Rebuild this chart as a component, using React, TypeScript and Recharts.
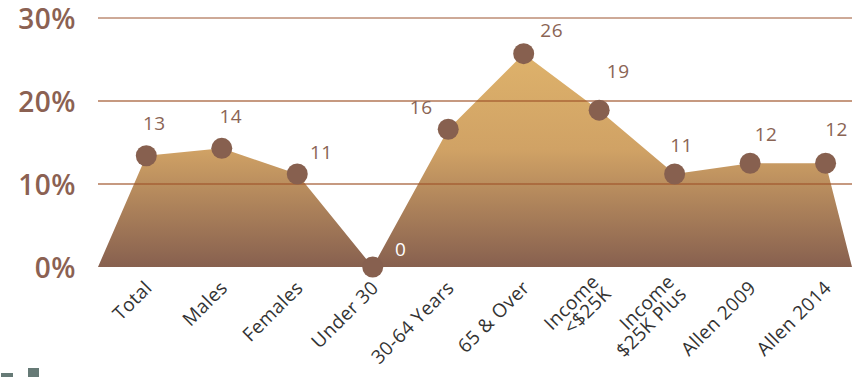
import { Area, ComposedChart, Line, ReferenceLine, XAxis, YAxis } from "recharts";

const categories = [
  "Total",
  "Males",
  "Females",
  "Under 30",
  "30-64 Years",
  "65 & Over",
  "Income\n<$25K",
  "Income\n$25K Plus",
  "Allen 2009",
  "Allen 2014",
];
const values = [13.4, 14.3, 11.2, 0, 16.6, 25.7, 18.9, 11.2, 12.5, 12.5];
const valueLabels = [13, 14, 11, 0, 16, 26, 19, 11, 12, 12];
const yTicks = [0, 10, 20, 30];
const gridLevels = [10, 20];

// axis runs a bit past the first and last category, area falls to 0 there
const X_MIN = -0.64;
const X_MAX = 9.35;

const data = [
  { x: X_MIN, v: 0 },
  ...values.map((v, i) => ({ x: i, v, label: valueLabels[i], name: categories[i] })),
  { x: X_MAX, v: 0 },
];

const BROWN = "#87604f";
const LABEL_OFFSETS: [number, number][] = [
  [8, -33],
  [9, -32],
  [24, -22],
  [28, -18],
  [-27, -22],
  [28, -24],
  [19, -39],
  [7, -29],
  [16, -29],
  [11, -34],
];

function Dot(props: any) {
  const { cx, cy, payload } = props;
  if (payload.label === undefined) return null;
  return <circle cx={cx} cy={cy} r={10.5} fill={BROWN} />;
}

function ValueLabel(props: any) {
  const { x, y, index } = props;
  const p = data[index];
  if (!p || p.label === undefined) return null;
  const [dx, dy] = LABEL_OFFSETS[p.x];
  return (
    <text
      x={x + dx}
      y={y + dy}
      textAnchor="middle"
      dominantBaseline="central"
      fontSize={19}
      letterSpacing={0.5}
      fill={p.label === 0 ? "#ffffff" : "#8a6454"}
      fontFamily="Open Sans"
    >
      {p.label}
    </text>
  );
}

function XTick(props: any) {
  const { x, y, payload } = props;
  const text = categories[payload.value];
  if (text === undefined) return null;
  const lines = text.split("\n");
  const ax = x + 7;
  const ay = y + 14;
  const lh = 17;
  return (
    <text
      transform={`rotate(-45, ${ax}, ${ay})`}
      x={ax}
      y={ay}
      textAnchor="end"
      fontSize={19}
      letterSpacing={0.4}
      fill="#333333"
      fontFamily="Open Sans"
    >
      {lines.map((l, i) => (
        <tspan key={i} x={ax} y={ay + (i - (lines.length - 1) / 2) * lh}>
          {l}
        </tspan>
      ))}
    </text>
  );
}

function YTick(props: any) {
  const { y, payload } = props;
  return (
    <text
      x={76}
      y={y}
      textAnchor="end"
      dominantBaseline="central"
      fontSize={28}
      fontWeight={600}
      letterSpacing={0.5}
      fill="#8b6152"
      fontFamily="Open Sans"
    >
      {payload.value}%
    </text>
  );
}

export default function App() {
  return (
    <div style={{ position: "absolute", left: 0, top: 0, width: 859, height: 377, background: "#fff" }}>
      <ComposedChart
        width={859}
        height={377}
        data={data}
        margin={{ top: 18, right: 7, left: 0, bottom: 0 }}
      >
        <defs>
          <linearGradient id="areaFill" x1="0" y1="0" x2="0" y2="1">
            <stop offset="0%" stopColor="#deb26b" />
            <stop offset="45%" stopColor="#d0a265" />
            <stop offset="100%" stopColor="#87604f" />
          </linearGradient>
        </defs>
        <XAxis
          dataKey="x"
          type="number"
          domain={[X_MIN, X_MAX]}
          ticks={categories.map((_, i) => i)}
          interval={0}
          axisLine={false}
          tickLine={false}
          height={110}
          tick={<XTick />}
        />
        <YAxis
          type="number"
          domain={[0, 30]}
          ticks={yTicks}
          axisLine={false}
          tickLine={false}
          width={98}
          tick={<YTick />}
        />
        <Area
          dataKey="v"
          type="linear"
          stroke="none"
          fill="url(#areaFill)"
          fillOpacity={1}
          dot={false}
          activeDot={false}
          isAnimationActive={false}
        />
        {gridLevels.map((g) => (
          <ReferenceLine key={g} y={g} stroke="#a0552c" strokeOpacity={0.6} strokeWidth={2} />
        ))}
        <ReferenceLine y={30} stroke="#9c5530" strokeWidth={1} />
        <Line
          dataKey="v"
          type="linear"
          stroke="none"
          dot={<Dot />}
          activeDot={false}
          label={<ValueLabel />}
          isAnimationActive={false}
        />
      </ComposedChart>
      <div style={{ position: "absolute", left: 1, top: 373, width: 12, height: 4, background: "#667a76" }} />
      <div style={{ position: "absolute", left: 28, top: 368, width: 11, height: 9, background: "#667a76" }} />
    </div>
  );
}
